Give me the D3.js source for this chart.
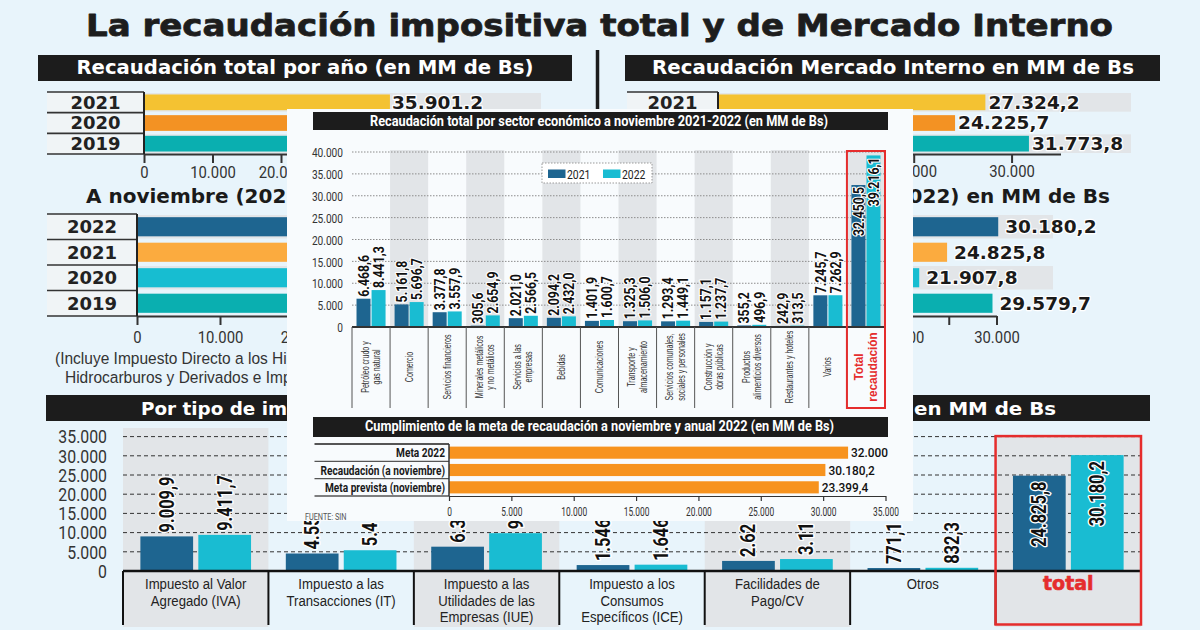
<!DOCTYPE html>
<html><head><meta charset="utf-8">
<script src="https://cdn.jsdelivr.net/npm/d3@7/dist/d3.min.js"></script>
<style>
html,body{margin:0;padding:0;background:#e8f4fb;}
svg{display:block;}
</style></head><body>
<svg id="chart" width="1200" height="630"></svg>
<script>
// ---------------- DATA ----------------
const mainTitle = "La recaudación impositiva total y de Mercado Interno";

const annualTitle = "Recaudación total por año (en MM de Bs)";
const annualMITitle = "Recaudación Mercado Interno en MM de Bs";
const annualYears = ["2021", "2020", "2019"];
const annualTotal = [35901.2, 29350.0, 36800.0];   // 2020 / 2019 covered by the inset (estimated)
const annualMI = [27324.2, 24225.7, 31773.8];
const annualTicks = [0, 10000, 20000, 30000, 40000];
const annualTickLabels = [0, 10000, 20000];          // the others sit under the inset
const annualMITicks = [0, 10000, 20000, 30000];
const annualMITickLabels = [20000, 30000];

const novTitleLeft = "A noviembre (2022)";
const novTitleRight = "(2022) en MM de Bs";
const novYears = ["2022", "2021", "2020", "2019"];
const novTotal = [39216.1, 32450.5, 26400.0, 35900.0];  // 2020 / 2019 covered by the inset (estimated)
const novMI = [30180.2, 24825.8, 21907.8, 29579.7];
const novTicks = [0, 10000, 20000, 30000, 40000];
const novTickLabels = [0, 10000, 20000];
const novMITicks = [0, 10000, 20000, 25000, 30000];
const novMITickLabels = [20000, 30000];
const novNote = ["(Incluye Impuesto Directo a los Hidro", "Hidrocarburos y Derivados e Impuestos"];

const sectorTitle = "Recaudación total por sector económico a noviembre 2021-2022 (en MM de Bs)";
const sectorSeries = ["2021", "2022"];
const sectors = ["Petróleo crudo y|gas natural", "Comercio", "Servicios financieros",
  "Minerales metálicos|y no metálicos", "Servicios a las|empresas", "Bebidas", "Comunicaciones",
  "Transporte y|almacenamiento", "Servicios comunales,|sociales y personales", "Construcción y|obras públicas",
  "Productos|alimenticios diversos", "Restaurantes y hoteles", "Varios", "Total|recaudación"];
const sector2021 = [6468.6, 5161.8, 3377.8, 305.6, 2021.0, 2094.2, 1401.9, 1325.3, 1293.4, 1157.1, 355.2, 242.9, 7245.7, 32450.5];
const sector2022 = [8441.3, 5696.7, 3557.9, 2654.9, 2566.5, 2432.0, 1600.7, 1506.0, 1449.1, 1237.7, 496.9, 313.5, 7262.9, 39216.1];
const sectorTicks = [0, 5000, 10000, 15000, 20000, 25000, 30000, 35000, 40000];

const metaTitle = "Cumplimiento de la meta de recaudación a noviembre y anual 2022 (en MM de Bs)";
const metaLabels = ["Meta 2022", "Recaudación (a noviembre)", "Meta prevista (noviembre)"];
const metaBars = [32000, 30180.2, 29650];          // bar lengths as drawn in the source
const metaValueLabels = ["32.000", "30.180,2", "23.399,4"];
const metaTicks = [0, 5000, 10000, 15000, 20000, 25000, 30000, 35000];
const sourceText = "FUENTE: SIN";

const taxTitleLeft = "Por tipo de impuesto";
const taxTitleRight = "en MM de Bs";
const taxTypes = ["Impuesto al Valor|Agregado (IVA)", "Impuesto a las|Transacciones (IT)",
  "Impuesto a las|Utilidades de las|Empresas (IUE)", "Impuesto a los|Consumos|Específicos (ICE)",
  "Facilidades de|Pago/CV", "Otros", "total"];
const taxSeries = ["2021", "2022"];
const tax2021 = [9009.9, 4556.2, 6331.8, 1546.3, 2625.7, 771.1, 24825.8];
const tax2022 = [9411.7, 5406.3, 9850.4, 1646.4, 3112.5, 832.3, 30180.2];
// value labels as visible in the source (several are cut by the inset panel)
const taxLabels2021 = ["9.009,9", "4.55", "6.3", "1.546", "2.62", "771,1", "24.825,8"];
const taxLabels2022 = ["9.411,7", "5.4", "9", "1.646", "3.11", "832,3", "30.180,2"];
const taxTicks = [0, 5000, 10000, 15000, 20000, 25000, 30000, 35000];

// ---------------- STYLE ----------------
const C = {bg:"#e8f4fb", panel:"#f8fbfd", dark:"#1e6590", cyan:"#19bcd2", teal:"#0aafb0",
  cyan2:"#17bdd1", yellow:"#f4c232", orange:"#f39223", lorange:"#fbab3f", metaOrange:"#f7931e",
  gray:"#e2e5e8", red:"#e52d2d", black:"#1c1c1c", cell:"#f0f4f6"};
const FH = "'DejaVu Sans', Verdana, sans-serif";
const FC = "Roboto, 'Open Sans', sans-serif";
const FA = "'Liberation Sans', Arial, sans-serif";

const loc = d3.formatLocale({decimal:",", thousands:".", grouping:[3], currency:["",""]});
const f1 = loc.format(",.1f"), f0 = loc.format(",.0f");

const svg = d3.select("#chart");

function txt(g, o){
  let tr = `translate(${o.x},${o.y})`;
  if (o.rot) tr += ` rotate(${o.rot})`;
  if (o.k && o.k !== 1) tr += ` scale(${o.k},1)`;
  const t = g.append("text").attr("transform", tr)
    .attr("text-anchor", o.anchor || "start")
    .style("font-family", o.family || FC)
    .style("font-size", o.size + "px")
    .style("font-weight", o.weight || "normal")
    .style("fill", o.fill || "#222");
  if (o.lines) {
    // multi-line text: one <text>, one <tspan> per line (offset along local y)
    const n = o.lines.length;
    o.lines.forEach((ln, i) => t.append("tspan")
      .attr("x", (o.lineX && o.lineX[i]) || 0)
      .attr("y", (i - (n - 1) / 2) * o.lh + (o.lineShift || 0)).attr("dy", "0.35em").text(ln));
  } else {
    t.attr("dy", o.dy == null ? "0.35em" : o.dy).text(o.text);
  }
  if (o.halo) t.style("stroke", o.halo).style("stroke-width", o.haloW || 3)
      .style("paint-order", "stroke").style("stroke-linejoin", "round");
  if (o.len) t.attr("textLength", o.len).attr("lengthAdjust", "spacingAndGlyphs");
  return t;
}
function rect(g, x0, y0, x1, y1, fill){
  return g.append("rect").attr("x", x0).attr("y", y0).attr("width", x1 - x0).attr("height", y1 - y0).attr("fill", fill);
}
function line(g, x1, y1, x2, y2, stroke, w){
  return g.append("line").attr("x1", x1).attr("y1", y1).attr("x2", x2).attr("y2", y2)
    .attr("stroke", stroke).attr("stroke-width", w);
}
function styleAxis(ax, o){
  ax.select(".domain").attr("stroke", o.color).attr("stroke-width", o.w);
  ax.selectAll(".tick line").attr("stroke", o.color).attr("stroke-width", o.w);
  ax.selectAll(".tick text").attr("x", null).attr("y", null).attr("dy", "0.35em")
    .attr("text-anchor", o.anchor || "middle")
    .attr("transform", `translate(${o.tx || 0},${o.ty || 0}) scale(${o.k},1)`)
    .style("font-family", FC).style("font-size", o.size + "px").attr("fill", o.fill);
  ax.selectAll(".tick text").filter(function(){ return this.textContent === ""; }).remove();
}

// background
rect(svg, 0, 0, 1200, 630, C.bg);

// main title
txt(svg, {x:86, y:36, dy:0, text:mainTitle, size:31, weight:"bold", family:FH, fill:"#1d1d1d",
  len:1027, halo:"#1d1d1d", haloW:0.8});

// top headers
rect(svg, 38, 55, 572, 81, C.black);
txt(svg, {x:76.5, y:74, dy:0, text:annualTitle, size:19, weight:"bold", family:FH, fill:"#fff", len:457});
rect(svg, 625, 55, 1160, 81, C.black);
txt(svg, {x:652, y:73.5, dy:0, text:annualMITitle, size:19, weight:"bold", family:FH, fill:"#fff", len:482});
line(svg, 597.5, 50, 597.5, 170, C.black, 3.5);

// ---------- small horizontal bar charts ----------
function smallBars(o){
  const g = svg.append("g");
  const x = d3.scaleLinear().domain(o.domain).range(o.range);
  const y = d3.scaleBand().domain(o.years).range([o.y0, o.y1]).paddingInner(o.pi).paddingOuter(o.po);
  const step = y.step();
  rect(g, o.lx, o.y0, x(0), o.y1, C.cell);
  o.years.forEach((yr, i) => {
    if (i % 2 === 0) rect(g, x(0), o.y0 + i * step + 1, o.trackEnd, o.y0 + (i + 1) * step - 1, C.gray);
  });
  d3.range(o.years.length + 1).forEach(i => line(g, o.lx, o.y0 + i * step, x(0), o.y0 + i * step, "#333", 1.6));
  g.selectAll("rect.bar").data(o.values).join("rect").attr("class", "bar")
    .attr("x", x(0)).attr("y", (d, i) => y(o.years[i]))
    .attr("width", d => x(d) - x(0)).attr("height", y.bandwidth())
    .attr("fill", (d, i) => o.colors[i]);
  o.years.forEach((yr, i) => {
    if (o.showYear[i]) txt(g, {x:(o.lx + x(0)) / 2, y:y(yr) + y.bandwidth() / 2, text:yr, size:18,
      weight:"bold", family:FH, fill:"#222", anchor:"middle"});
  });
  o.values.forEach((v, i) => {
    if (o.showValue[i]) txt(g, {x:x(v) + o.gap, y:y(o.years[i]) + y.bandwidth() / 2, text:f1(v),
      size:18.5, weight:"bold", family:FH, fill:"#1a1a1a", halo:"#fff", haloW:2.5});
  });
  const ax = g.append("g").attr("transform", `translate(0,${o.y1})`)
    .call(d3.axisBottom(x).tickValues(o.ticks).tickFormat(d => o.labelTicks.includes(d) ? f0(d) : "")
      .tickSize(9).tickSizeOuter(0));
  styleAxis(ax, {color:"#333", w:2, k:0.9, size:16.5, fill:"#333", ty:o.ty});
  line(g, x(0), o.y0, x(0), o.y1, "#222", 2);
}

smallBars({domain:[0, 40000], range:[144, 418], years:annualYears, values:annualTotal,
  colors:[C.yellow, C.orange, C.teal], y0:92, y1:154, pi:0.24, po:0.12, lx:47, trackEnd:541, gap:2,
  ticks:annualTicks, labelTicks:annualTickLabels, ty:18,
  showYear:[true, true, true], showValue:[true, false, false]});
smallBars({domain:[0, 35000], range:[718, 1060.5], years:annualYears, values:annualMI,
  colors:[C.yellow, C.orange, C.teal], y0:92, y1:154, pi:0.24, po:0.12, lx:627, trackEnd:1131, gap:3,
  ticks:annualMITicks, labelTicks:annualMITickLabels, ty:17,
  showYear:[true, false, false], showValue:[true, true, true]});

// middle titles
txt(svg, {x:86, y:203, dy:0, text:novTitleLeft, size:20, weight:"bold", family:FH, fill:"#1a1a1a"});
txt(svg, {x:1110, y:203, dy:0, text:novTitleRight, size:20, weight:"bold", family:FH, fill:"#1a1a1a", anchor:"end"});

smallBars({domain:[0, 40000], range:[137, 469], years:novYears, values:novTotal,
  colors:[C.dark, C.lorange, C.cyan2, C.teal], y0:214, y1:316, pi:0.25, po:0.125, lx:47, trackEnd:470, gap:6,
  ticks:novTicks, labelTicks:novTickLabels, ty:21,
  showYear:[true, true, true, true], showValue:[false, false, false, false]});
smallBars({domain:[0, 30000], range:[710, 996.5], years:novYears, values:novMI,
  colors:[C.dark, C.lorange, C.cyan2, C.teal], y0:214, y1:316, pi:0.25, po:0.125, lx:620, trackEnd:1053, gap:7,
  ticks:novMITicks, labelTicks:novMITickLabels, ty:21,
  showYear:[false, false, false, false], showValue:[true, true, true, true]});

txt(svg, {x:55, y:367.5, lines:novNote, lh:19, lineX:[0, 10 / 0.94], size:16.5, k:0.94, family:FA, fill:"#333"});

// ---------- bottom chart: por tipo de impuesto ----------
(function(){
  const g = svg.append("g");
  rect(g, 46, 395, 1150, 421, C.black);
  txt(g, {x:141, y:414.5, dy:0, text:taxTitleLeft, size:18, weight:"bold", family:FH, fill:"#fff", k:1.02});
  txt(g, {x:1056, y:414.5, dy:0, text:taxTitleRight, size:18, weight:"bold", family:FH, fill:"#fff", k:1.1, anchor:"end"});

  const bx = d3.scaleBand().domain(taxTypes).range([123, 1141]);
  const bIn = d3.scaleBand().domain(taxSeries).range([0, bx.bandwidth()]).paddingInner(0.09).paddingOuter(0.3);
  const by = d3.scaleLinear().domain([0, 35000]).range([571, 436.6]);
  const vals = [tax2021, tax2022], labs = [taxLabels2021, taxLabels2022], cols = [C.dark, C.cyan];
  const last = taxTypes.length - 1;

  taxTypes.forEach((t, i) => {
    if (i % 2 === 0) rect(g, bx(t), i === last ? by(35000) : 428, bx(t) + bx.bandwidth(), 627, C.gray);
  });
  g.selectAll("line.grid").data(taxTicks.filter(t => t > 0)).join("line")
    .attr("x1", 123).attr("x2", 1141).attr("y1", d => by(d)).attr("y2", d => by(d))
    .attr("stroke", "#333").attr("stroke-width", 1).attr("stroke-dasharray", "4,3");
  const ay = g.append("g").attr("transform", "translate(123,0)")
    .call(d3.axisLeft(by).tickValues(taxTicks).tickFormat(f0).tickSize(0));
  ay.select(".domain").remove();
  styleAxis(ay, {color:"none", w:0, k:0.88, size:18, fill:"#333", tx:-16, anchor:"end"});

  taxSeries.forEach((s, j) => {
    g.selectAll("rect.tax" + s).data(taxTypes).join("rect").attr("class", "tax" + s)
      .attr("x", d => bx(d) + bIn(s)).attr("y", (d, i) => by(vals[j][i]))
      .attr("width", bIn.bandwidth()).attr("height", (d, i) => by(0) - by(vals[j][i]))
      .attr("fill", cols[j]);
  });
  line(g, 123, 571, 1141, 571, "#111", 2.5);
  d3.range(taxTypes.length + 1).forEach(i => {
    const xx = 123 + i * bx.step();
    line(g, xx, 571, xx, 625, "#111", 2);
  });
  taxSeries.forEach((s, j) => {
    taxTypes.forEach((t, i) => {
      const v = vals[j][i], cx = bx(t) + bIn(s) + bIn.bandwidth() / 2;
      const inside = i === last;
      txt(g, {x:cx, y:inside ? by(v) + 6 : by(v) - 4, rot:-90, k:0.82, text:labs[j][i], size:20, weight:"bold",
        fill:"#111", halo:"#fff", haloW:3, anchor:inside ? "end" : "start"});
    });
  });
  taxTypes.forEach((t, i) => {
    const cx = bx(t) + bx.bandwidth() / 2;
    if (i === last) {
      txt(g, {x:cx, y:583, text:t, size:19, weight:"bold", family:FH, fill:C.red, anchor:"middle", halo:C.red, haloW:0.6});
    } else {
      const ls = t.split("|");
      txt(g, {x:cx, y:584, lines:ls, lh:16.6, lineShift:(ls.length - 1) * 8.3, size:14.8, k:0.89,
        family:FA, fill:"#222", anchor:"middle"});
    }
  });
  g.append("rect").attr("x", bx(taxTypes[last])).attr("y", by(35000) - 0.5)
    .attr("width", bx.bandwidth()).attr("height", 625 - by(35000))
    .attr("fill", "none").attr("stroke", C.red).attr("stroke-width", 2.5);
})();

// ---------- inset panel ----------
rect(svg, 287, 109, 913, 521, C.panel);

// ---------- sector chart ----------
(function(){
  const g = svg.append("g");
  rect(g, 313, 112, 888, 130, C.black);
  txt(g, {x:370, y:125.7, dy:0, text:sectorTitle, size:14, weight:"bold", fill:"#fff", len:458});
  const sx = d3.scaleBand().domain(sectors).range([352, 885]);
  const sIn = d3.scaleBand().domain(sectorSeries).range([0, sx.bandwidth()]).paddingInner(0.07).paddingOuter(0.3);
  const sy = d3.scaleLinear().domain([0, 40000]).range([327, 152]);
  const vals = [sector2021, sector2022], cols = [C.dark, C.cyan];
  const last = sectors.length - 1;

  sectors.forEach((s, i) => { if (i % 2 === 1) rect(g, sx(s), 150, sx(s) + sx.bandwidth(), 327, C.gray); });
  g.selectAll("line.grid").data(sectorTicks.filter(t => t > 0)).join("line")
    .attr("x1", 352).attr("x2", 885).attr("y1", d => sy(d)).attr("y2", d => sy(d))
    .attr("stroke", "#8c8c8c").attr("stroke-width", 1).attr("stroke-dasharray", "1.5,1.5");
  const ay = g.append("g").attr("transform", "translate(352,0)")
    .call(d3.axisLeft(sy).tickValues(sectorTicks).tickFormat(f0).tickSize(0));
  ay.select(".domain").remove();
  styleAxis(ay, {color:"none", w:0, k:0.75, size:13.5, fill:"#333", tx:-9, anchor:"end"});

  // legend
  g.append("rect").attr("x", 542).attr("y", 163).attr("width", 110).attr("height", 20)
    .attr("fill", "#fff").attr("stroke", "#9a9a9a").attr("stroke-dasharray", "1.5,1.5");
  sectorSeries.forEach((s, j) => {
    const lx = 548 + j * 55;
    rect(g, lx, 169.5, lx + 17.5, 178, cols[j]);
    txt(g, {x:lx + 19, y:174, text:s, size:13, k:0.8, fill:"#222"});
  });

  sectorSeries.forEach((s, j) => {
    g.selectAll("rect.sec" + s).data(sectors).join("rect").attr("class", "sec" + s)
      .attr("x", d => sx(d) + sIn(s)).attr("y", (d, i) => sy(vals[j][i]))
      .attr("width", sIn.bandwidth()).attr("height", (d, i) => sy(0) - sy(vals[j][i]))
      .attr("fill", cols[j]);
  });
  line(g, 352, 327, 885, 327, "#333", 1.8);
  d3.range(sectors.length + 1).forEach(i => {
    const xx = 352 + i * sx.step();
    line(g, xx, 327, xx, 408, "#555", 1);
  });
  sectorSeries.forEach((s, j) => {
    sectors.forEach((t, i) => {
      const v = vals[j][i], cx = sx(t) + sIn(s) + sIn.bandwidth() / 2;
      const inside = i === last;
      txt(g, {x:cx, y:inside ? sy(v) + 2 : sy(v) - 2, rot:-90, k:0.82, text:f1(v), size:15, weight:"bold",
        fill:"#111", halo:"#fff", haloW:2.5, anchor:inside ? "end" : "start"});
    });
  });
  sectors.forEach((t, i) => {
    const cx = sx(t) + sx.bandwidth() / 2;
    const isT = i === last;
    txt(g, {x:cx, y:367, rot:-90, k:isT ? 0.98 : 0.71, lines:t.split("|"), lh:isT ? 13.4 : 11.3,
      size:isT ? 12 : 10, weight:isT ? "bold" : "normal", family:FA,
      fill:isT ? C.red : "#333", anchor:"middle"});
  });
  g.append("rect").attr("x", sx(sectors[last])).attr("y", 151).attr("width", sx.bandwidth()).attr("height", 257)
    .attr("fill", "none").attr("stroke", C.red).attr("stroke-width", 2);
})();

// ---------- meta chart ----------
(function(){
  const g = svg.append("g");
  rect(g, 313, 417, 888, 437, C.black);
  txt(g, {x:365, y:430.7, dy:0, text:metaTitle, size:14, weight:"bold", fill:"#fff", len:469});
  const mx = d3.scaleLinear().domain([0, 35000]).range([449, 885.5]);
  const my = d3.scaleBand().domain(metaLabels).range([444, 496]).paddingInner(0.3).paddingOuter(0.15);
  const step = my.step();
  d3.range(metaLabels.length + 1).forEach(i => line(g, 314.5, 444 + i * step, 449, 444 + i * step, "#555", i === 0 ? 2 : 1.3));
  g.selectAll("rect.meta").data(metaBars).join("rect").attr("class", "meta")
    .attr("x", mx(0)).attr("y", (d, i) => my(metaLabels[i]))
    .attr("width", d => mx(d) - mx(0)).attr("height", my.bandwidth()).attr("fill", C.metaOrange);
  metaLabels.forEach((l, i) => {
    const cy = my(l) + my.bandwidth() / 2;
    txt(g, {x:445, y:cy, text:l, size:13, weight:"bold", k:0.78, fill:"#1a1a1a", anchor:"end"});
    txt(g, {x:mx(metaBars[i]) + 3, y:cy, text:metaValueLabels[i], size:13.5, weight:"500", k:0.88, fill:"#111"});
  });
  const ax = g.append("g").attr("transform", "translate(0,496)")
    .call(d3.axisBottom(mx).tickValues(metaTicks).tickFormat(f0).tickSize(5).tickSizeOuter(0));
  styleAxis(ax, {color:"#333", w:1.2, k:0.7, size:12, fill:"#333", ty:15.7});
  line(g, 449, 444, 449, 496, "#333", 1.5);
  txt(g, {x:305, y:517, text:sourceText, size:9, k:0.81, fill:"#555"});
})();
</script>
</body></html>
